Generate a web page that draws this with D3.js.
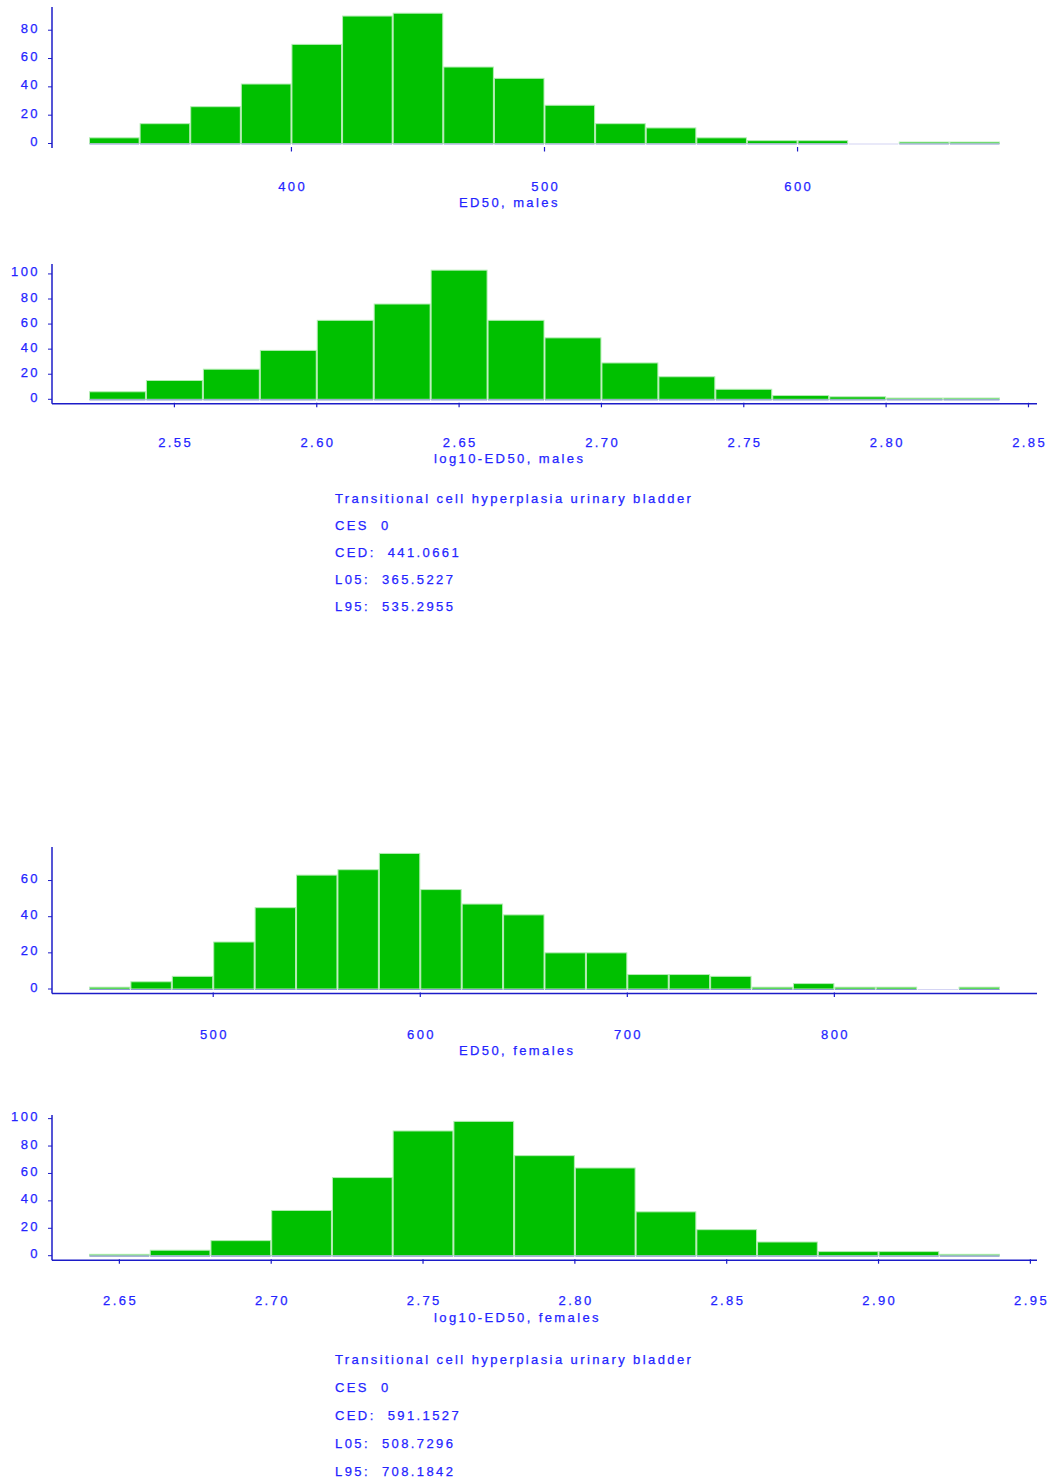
<!DOCTYPE html>
<html>
<head>
<meta charset="utf-8">
<script src="https://cdn.jsdelivr.net/npm/d3@7"></script>
<style>
  html, body { margin: 0; padding: 0; background: #ffffff; }
  svg { display: block; }
  text { font-family: "Liberation Sans", Arial, sans-serif; font-size: 13px; letter-spacing: 2.4px; fill: #2424ff; stroke: #2424ff; stroke-width: 0.25px; white-space: pre; }
</style>
</head>
<body>
<svg id="chart" width="1048" height="1481"></svg>
<script>
// Bootstrap histograms of ED50 (bin counts, 500 samples each)
const edMalesBins = [320, 680];
const edMalesCounts = [4, 14, 26, 42, 70, 90, 92, 54, 46, 27, 14, 11, 4, 2, 2, 0, 1, 1];
const edMalesTicks = [400, 500, 600];

const logMalesBins = [2.52, 2.84];
const logMalesCounts = [6, 15, 24, 39, 63, 76, 103, 63, 49, 29, 18, 8, 3, 2, 1, 1];
const logMalesTicks = [2.55, 2.60, 2.65, 2.70, 2.75, 2.80, 2.85];

const edFemalesBins = [440, 880];
const edFemalesCounts = [1, 4, 7, 26, 45, 63, 66, 75, 55, 47, 41, 20, 20, 8, 8, 7, 1, 3, 1, 1, 0, 1];
const edFemalesTicks = [500, 600, 700, 800];

const logFemalesBins = [2.64, 2.94];
const logFemalesCounts = [1, 4, 11, 33, 57, 91, 98, 73, 64, 32, 19, 10, 3, 3, 1];
const logFemalesTicks = [2.65, 2.70, 2.75, 2.80, 2.85, 2.90, 2.95];

const statsMales = [
  "Transitional cell hyperplasia urinary bladder",
  "CES  0",
  "CED:  441.0661",
  "L05:  365.5227",
  "L95:  535.2955"
];
const statsFemales = [
  "Transitional cell hyperplasia urinary bladder",
  "CES  0",
  "CED:  591.1527",
  "L05:  508.7296",
  "L95:  708.1842"
];

const svg = d3.select("#chart");
const AXIS = "#1c1cc8";

function histogram(cfg) {
  const { bins, counts, ticks, fmt, top, base, axisLine, title, titleX, tickLabelY, titleY } = cfg;
  const g = svg.append("g");
  const n = counts.length;
  const step = (bins[1] - bins[0]) / n;
  const rows = counts.map((c, i) => ({ x0: bins[0] + i * step, x1: bins[0] + (i + 1) * step, c }));

  const x = d3.scaleLinear().domain(bins).range([89, 1000]);
  const yMax = d3.max(counts) * 1.04;
  const y = d3.scaleLinear().domain([0, yMax]).range([base, top]);
  const axisY = base + 4.5;

  // bars
  g.selectAll("rect.bar").data(rows.filter(d => d.c > 0)).join("rect")
    .attr("class", "bar")
    .attr("x", d => x(d.x0) + 0.5)
    .attr("width", d => x(d.x1) - x(d.x0) - 1)
    .attr("y", d => y(d.c))
    .attr("height", d => y(0) - y(d.c))
    .attr("fill", "#00c000")
    .attr("stroke", "#b4ecb4")
    .attr("stroke-width", 1);

  // bar baselines
  g.selectAll("line.base").data(rows).join("line")
    .attr("class", "base")
    .attr("x1", d => x(d.x0) + 0.5)
    .attr("x2", d => x(d.x1) - 0.5)
    .attr("y1", y(0) + 0.5).attr("y2", y(0) + 0.5)
    .attr("stroke", d => d.c > 0 ? "#8c98d0" : "#d4d4f4")
    .attr("stroke-width", 1.2);

  // y axis
  g.append("line")
    .attr("x1", 52).attr("x2", 52)
    .attr("y1", top - 1).attr("y2", axisY)
    .attr("stroke", AXIS).attr("stroke-width", 1.5);
  const yTicks = d3.range(0, yMax, 20);
  g.selectAll("line.yt").data(yTicks).join("line")
    .attr("class", "yt")
    .attr("x1", 48).attr("x2", 52)
    .attr("y1", d => y(d)).attr("y2", d => y(d))
    .attr("stroke", AXIS).attr("stroke-width", 1);
  g.selectAll("text.yl").data(yTicks).join("text")
    .attr("class", "yl")
    .attr("x", 40)
    .attr("y", d => y(d) - 2)
    .attr("dy", "0.35em")
    .attr("text-anchor", "end")
    .text(d => d);

  // x axis
  if (axisLine) {
    g.append("line")
      .attr("x1", 52).attr("x2", 1037)
      .attr("y1", axisY).attr("y2", axisY)
      .attr("stroke", AXIS).attr("stroke-width", 1.5);
  }
  g.selectAll("line.xt").data(ticks).join("line")
    .attr("class", "xt")
    .attr("x1", d => x(d)).attr("x2", d => x(d))
    .attr("y1", axisY - 1).attr("y2", axisY + 3.5)
    .attr("stroke", AXIS).attr("stroke-width", 1.2);
  g.selectAll("text.xl").data(ticks).join("text")
    .attr("class", "xl")
    .attr("x", d => x(d) + 1.2)
    .attr("y", tickLabelY)
    .attr("text-anchor", "middle")
    .text(fmt);

  g.append("text")
    .attr("x", titleX).attr("y", titleY)
    .text(title);
}

function statsBlock(lines, y0, gap) {
  svg.append("g").selectAll("text").data(lines).join("text")
    .attr("x", 335)
    .attr("y", (d, i) => y0 + i * gap)
    .text(d => d);
}

histogram({ bins: edMalesBins, counts: edMalesCounts, ticks: edMalesTicks, fmt: d3.format("d"),
  top: 8, base: 143.5, axisLine: false, title: "ED50, males", titleX: 459, tickLabelY: 191, titleY: 207 });

histogram({ bins: logMalesBins, counts: logMalesCounts, ticks: logMalesTicks, fmt: d3.format(".2f"),
  top: 265, base: 399.3, axisLine: true, title: "log10-ED50, males", titleX: 434, tickLabelY: 447, titleY: 463 });

statsBlock(statsMales, 503, 27);

histogram({ bins: edFemalesBins, counts: edFemalesCounts, ticks: edFemalesTicks, fmt: d3.format("d"),
  top: 848, base: 989, axisLine: true, title: "ED50, females", titleX: 459, tickLabelY: 1039, titleY: 1055 });

histogram({ bins: logFemalesBins, counts: logFemalesCounts, ticks: logFemalesTicks, fmt: d3.format(".2f"),
  top: 1116, base: 1255.7, axisLine: true, title: "log10-ED50, females", titleX: 434, tickLabelY: 1305, titleY: 1322 });

statsBlock(statsFemales, 1364, 28);
</script>
</body>
</html>
